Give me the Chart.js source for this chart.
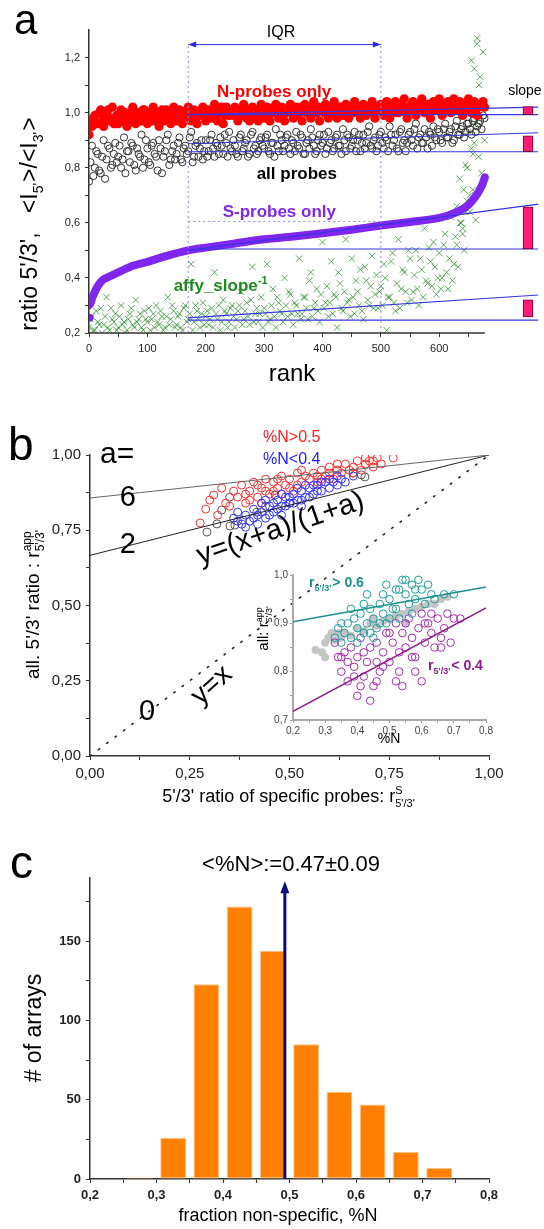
<!DOCTYPE html>
<html>
<head>
<meta charset="utf-8">
<script src="https://cdn.jsdelivr.net/npm/chart.js@4.4.1/dist/chart.umd.min.js"></script>
<style>
  body { margin: 0; background: #fff; }
  #page { position: relative; width: 544px; height: 1229px; }
  canvas { position: absolute; }
</style>
</head>
<body>
<div id="page">
  <canvas id="chartA" width="544" height="400" style="left:0;top:0"></canvas>
  <canvas id="chartB" width="544" height="440" style="left:0;top:400px"></canvas>
  <canvas id="inset" width="250" height="190" style="left:250px;top:562px"></canvas>
  <canvas id="chartC" width="544" height="389" style="left:0;top:840px"></canvas>
</div>
<script>
// ============================
// ==== a : ratios vs rank ====
// ============================

// one value every RANK_STEP ranks (rank 0 .. 675); the *B lists sit half a step later
const RANK_STEP = 5;
const maxRank = 678;

const nProbes = [
  0.92, 0.95, 0.99, 0.96, 1.01, 0.95, 0.99, 0.97, 1.02, 0.96,
  0.96, 1.01, 0.98, 0.95, 1.00, 1.02, 0.96, 0.99, 0.97, 1.01,
  0.96, 1.00, 1.02, 0.97, 0.95, 1.01, 0.98, 1.00, 0.96, 1.02,
  0.97, 1.01, 0.96, 0.99, 1.02, 0.97, 1.01, 0.96, 0.99, 1.02,
  0.97, 1.01, 0.98, 1.03, 0.97, 1.00, 0.96, 1.02, 0.99, 1.01,
  1.02, 0.97, 1.00, 1.03, 0.98, 0.97, 1.02, 1.00, 0.97, 1.03,
  0.98, 1.02, 0.97, 1.00, 1.03, 0.98, 1.02, 0.97, 1.01, 1.03,
  0.98, 1.02, 1.00, 0.97, 1.03, 1.00, 0.98, 1.04, 1.00, 0.97,
  1.02, 1.03, 0.98, 1.00, 1.04, 0.98, 1.02, 0.99, 1.03, 0.98,
  1.02, 1.04, 1.00, 0.98, 1.03, 0.99, 1.02, 1.04, 0.98, 1.01,
  1.03, 0.99, 1.04, 0.98, 1.02, 1.04, 1.00, 1.03, 1.05, 0.98,
  1.01, 1.04, 0.99, 1.03, 1.05, 1.00, 1.03, 0.98, 1.04, 1.01,
  1.05, 0.99, 1.03, 1.04, 1.00, 1.05, 1.01, 1.04, 0.99, 1.03,
  1.05, 1.00, 1.04, 0.99, 1.03, 1.04
];
const nProbesB = [
  0.97, 0.98, 0.96, 1.00, 0.97, 0.99, 1.01, 0.98, 0.96, 0.99,
  0.99, 0.97, 1.00, 0.98, 0.97, 0.99, 1.00, 0.97, 1.01, 0.98,
  0.99, 0.97, 0.99, 1.00, 0.98, 0.97, 1.01, 0.98, 1.00, 0.98,
  1.00, 0.98, 0.99, 1.01, 0.98, 1.00, 0.98, 1.00, 1.01, 0.99,
  1.00, 0.99, 1.01, 0.99, 1.00, 1.02, 0.99, 1.00, 1.01, 0.99,
  1.00, 1.01, 0.99, 1.00, 1.01, 1.00, 0.99, 1.01, 1.00, 1.00,
  1.01, 0.99, 1.00, 1.02, 1.00, 1.01, 0.99, 1.00, 1.01, 1.00,
  1.00, 0.99, 1.02, 1.01, 1.00, 1.02, 1.01, 1.00, 1.02, 1.01,
  1.00, 1.01, 1.02, 1.01, 1.00, 1.02, 1.00, 1.01, 1.00, 1.02,
  1.00, 1.01, 1.02, 1.01, 1.00, 1.02, 1.01, 1.00, 1.02, 1.01,
  1.01, 1.02, 1.01, 1.03, 1.00, 1.01, 1.02, 1.01, 1.00, 1.02,
  1.03, 1.01, 1.02, 1.01, 1.02, 1.03, 1.01, 1.02, 1.01, 1.02,
  1.02, 1.03, 1.01, 1.02, 1.03, 1.01, 1.02, 1.03, 1.02, 1.01,
  1.02, 1.03, 1.01, 1.02, 1.03, 1.02
];

const allProbes = [
  0.75, 0.88, 0.80, 0.85, 0.78, 0.90, 0.83, 0.87, 0.81, 0.89,
  0.84, 0.80, 0.91, 0.86, 0.82, 0.88, 0.79, 0.85, 0.92, 0.83,
  0.87, 0.81, 0.89, 0.84, 0.90, 0.78, 0.86, 0.92, 0.83, 0.88,
  0.85, 0.91, 0.82, 0.88, 0.86, 0.93, 0.84, 0.89, 0.87, 0.83,
  0.90, 0.86, 0.92, 0.84, 0.88, 0.91, 0.85, 0.89, 0.93, 0.86,
  0.88, 0.84, 0.92, 0.87, 0.90, 0.85, 0.93, 0.88, 0.86, 0.91,
  0.87, 0.92, 0.85, 0.89, 0.94, 0.86, 0.90, 0.88, 0.92, 0.85,
  0.89, 0.93, 0.87, 0.91, 0.85, 0.90, 0.94, 0.88, 0.86, 0.92,
  0.89, 0.85, 0.93, 0.90, 0.87, 0.92, 0.88, 0.94, 0.86, 0.91,
  0.88, 0.93, 0.90, 0.86, 0.92, 0.89, 0.95, 0.87, 0.91, 0.88,
  0.93, 0.87, 0.90, 0.95, 0.88, 0.92, 0.86, 0.94, 0.90, 0.89,
  0.93, 0.88, 0.96, 0.91, 0.89, 0.94, 0.87, 0.92, 0.95, 0.90,
  0.93, 0.89, 0.96, 0.91, 0.94, 0.90, 0.97, 0.92, 0.95, 0.93,
  0.96, 0.92, 0.98, 0.95, 0.97, 0.99
];
const allProbesB = [
  0.82, 0.77, 0.86, 0.79, 0.84, 0.76, 0.88, 0.80, 0.85, 0.82,
  0.88, 0.83, 0.78, 0.86, 0.89, 0.81, 0.87, 0.84, 0.80, 0.90,
  0.82, 0.88, 0.85, 0.79, 0.87, 0.84, 0.90, 0.81, 0.86, 0.83,
  0.89, 0.83, 0.87, 0.85, 0.91, 0.82, 0.88, 0.84, 0.90, 0.86,
  0.84, 0.90, 0.87, 0.89, 0.85, 0.88, 0.92, 0.84, 0.87, 0.90,
  0.85, 0.91, 0.86, 0.89, 0.84, 0.92, 0.87, 0.85, 0.90, 0.88,
  0.91, 0.86, 0.89, 0.84, 0.88, 0.92, 0.86, 0.91, 0.87, 0.90,
  0.86, 0.88, 0.92, 0.85, 0.89, 0.87, 0.91, 0.85, 0.90, 0.88,
  0.92, 0.87, 0.89, 0.86, 0.91, 0.88, 0.85, 0.90, 0.92, 0.87,
  0.90, 0.86, 0.92, 0.89, 0.87, 0.93, 0.88, 0.90, 0.86, 0.92,
  0.89, 0.91, 0.86, 0.92, 0.90, 0.87, 0.93, 0.89, 0.86, 0.92,
  0.90, 0.94, 0.87, 0.92, 0.89, 0.91, 0.93, 0.88, 0.91, 0.94,
  0.90, 0.94, 0.91, 0.93, 0.89, 0.95, 0.92, 0.94, 0.91, 0.96,
  0.94, 0.97, 0.93, 0.96, 0.94, 0.98
];

const affySlopeInv = [
  0.22, 0.26, 0.21, 0.24, 0.29, 0.23, 0.33, 0.21, 0.25, 0.27,
  0.22, 0.30, 0.24, 0.21, 0.27, 0.23, 0.32, 0.25, 0.22, 0.28,
  0.24, 0.21, 0.27, 0.30, 0.23, 0.26, 0.22, 0.33, 0.25, 0.28,
  0.23, 0.27, 0.21, 0.30, 0.25, 0.45, 0.24, 0.28, 0.22, 0.31,
  0.26, 0.23, 0.29, 0.42, 0.25, 0.21, 0.32, 0.27, 0.24, 0.30,
  0.22, 0.28, 0.35, 0.25, 0.31, 0.23, 0.44, 0.27, 0.24, 0.33,
  0.29, 0.45, 0.25, 0.36, 0.22, 0.31, 0.27, 0.40, 0.26, 0.34,
  0.23, 0.30, 0.47, 0.27, 0.33, 0.25, 0.42, 0.29, 0.36, 0.24,
  0.53, 0.31, 0.26, 0.46, 0.34, 0.22, 0.38, 0.28, 0.54, 0.32,
  0.47, 0.27, 0.35, 0.43, 0.25, 0.39, 0.30, 0.48, 0.34, 0.29,
  0.37, 0.45, 0.21, 0.33, 0.49, 0.28, 0.54, 0.36, 0.42, 0.31,
  0.47, 0.35, 0.50, 0.30, 0.43, 0.58, 0.38, 0.46, 0.53, 0.34,
  0.49, 0.40, 0.56, 0.36, 0.62, 0.45, 0.52, 0.76, 0.58, 0.81,
  0.93, 1.19, 0.89, 1.27, 1.13, 1.22
];
const affySlopeInvB = [
  0.25, 0.21, 0.28, 0.23, 0.20, 0.26, 0.22, 0.29, 0.24, 0.21,
  0.26, 0.23, 0.20, 0.25, 0.29, 0.22, 0.24, 0.27, 0.21, 0.25,
  0.29, 0.25, 0.22, 0.24, 0.28, 0.21, 0.26, 0.23, 0.30, 0.22,
  0.26, 0.22, 0.29, 0.24, 0.27, 0.21, 0.30, 0.25, 0.27, 0.23,
  0.28, 0.25, 0.22, 0.27, 0.30, 0.24, 0.28, 0.22, 0.29, 0.26,
  0.25, 0.30, 0.23, 0.28, 0.26, 0.32, 0.24, 0.29, 0.27, 0.22,
  0.27, 0.24, 0.30, 0.26, 0.33, 0.28, 0.24, 0.30, 0.35, 0.27,
  0.31, 0.27, 0.25, 0.33, 0.29, 0.39, 0.26, 0.31, 0.28, 0.34,
  0.29, 0.37, 0.31, 0.27, 0.33, 0.42, 0.29, 0.35, 0.31, 0.26,
  0.33, 0.39, 0.30, 0.28, 0.44, 0.32, 0.37, 0.29, 0.41, 0.35,
  0.30, 0.40, 0.33, 0.46, 0.31, 0.38, 0.29, 0.43, 0.35, 0.50,
  0.32, 0.41, 0.36, 0.47, 0.33, 0.39, 0.51, 0.37, 0.44, 0.40,
  0.36, 0.52, 0.42, 0.47, 0.39, 0.55, 0.44, 0.60, 0.50, 0.68,
  0.64, 0.72, 0.61, 0.84, 0.78, 0.90
];
// extra crosses in the steep upper tail
const affyTailRank  = [630, 636, 642, 648, 655, 660, 662, 665, 668, 640, 652, 646, 658];
const affyTailValue = [0.66, 0.60, 0.72, 0.80, 0.87, 1.16, 0.96, 1.25, 1.10, 0.56, 0.70, 0.64, 0.85];

const sProbeRank  = [0, 3, 6, 10, 15, 20, 25, 30, 40, 50, 70, 100, 130, 170, 200, 250, 300, 350, 400, 450, 500, 550, 600, 620, 640, 650, 660, 668, 674, 678];
const sProbeValue = [0.30, 0.31, 0.33, 0.35, 0.37, 0.385, 0.395, 0.40, 0.41, 0.42, 0.44, 0.458, 0.478, 0.50, 0.51, 0.525, 0.54, 0.55, 0.562, 0.575, 0.59, 0.603, 0.618, 0.63, 0.65, 0.665, 0.69, 0.715, 0.74, 0.765];
const sProbeOutlier = [1, 0.255];

const iqrBounds = [170, 500];
const iqrArrowLevel = 1.247;
const sIqrTop = 0.605;

// blue lines : [rank0, value0, rank1, value1]
const fitLines = [
  [170, 0.993, 770, 0.993], [170, 0.993, 770, 1.020],
  [170, 0.858, 770, 0.858], [170, 0.887, 770, 0.927],
  [185, 0.505, 770, 0.505], [170, 0.500, 770, 0.668],
  [170, 0.247, 770, 0.247], [170, 0.255, 770, 0.338]
];
const slopeBarRank = 752;
const slopeBarLow  = [0.993, 0.858, 0.505, 0.258];
const slopeBarHigh = [1.022, 0.916, 0.658, 0.320];

// ========================================
// ==== b : apparent vs specific ratio ====
// ========================================
const aValues = [6, 2, 0];

const highN = [ // %N > 0.5
  [0.276,0.774],[0.31,0.867],[0.33,0.89],[0.30,0.85],[0.29,0.82],[0.34,0.84],[0.32,0.80],[0.35,0.83],[0.36,0.88],[0.37,0.86],
  [0.38,0.90],[0.39,0.84],[0.40,0.88],[0.41,0.91],[0.42,0.86],[0.43,0.89],[0.44,0.92],[0.40,0.85],[0.42,0.90],[0.45,0.87],
  [0.44,0.88],[0.39,0.87],[0.43,0.84],[0.46,0.91],[0.47,0.89],[0.48,0.93],[0.49,0.90],[0.50,0.92],[0.51,0.88],[0.52,0.94],
  [0.53,0.91],[0.54,0.93],[0.47,0.92],[0.50,0.89],[0.52,0.90],[0.55,0.92],[0.48,0.87],[0.53,0.95],[0.46,0.88],[0.56,0.94],
  [0.57,0.91],[0.58,0.95],[0.59,0.93],[0.60,0.96],[0.61,0.92],[0.62,0.95],[0.63,0.94],[0.64,0.97],[0.57,0.93],[0.60,0.94],
  [0.62,0.97],[0.58,0.92],[0.65,0.95],[0.66,0.96],[0.67,0.98],[0.68,0.95],[0.69,0.97],[0.70,0.98],[0.71,0.96],[0.72,0.99],
  [0.73,0.97],[0.76,0.99],[0.66,0.94],[0.69,0.99],[0.71,0.98]
];
const lowN = [ // %N < 0.4
  [0.36,0.79],[0.37,0.81],[0.38,0.77],[0.39,0.80],[0.40,0.78],[0.41,0.82],[0.42,0.80],[0.43,0.84],[0.44,0.79],[0.45,0.83],
  [0.46,0.81],[0.47,0.85],[0.48,0.83],[0.49,0.86],[0.50,0.84],[0.51,0.87],[0.52,0.85],[0.53,0.88],[0.54,0.86],[0.55,0.89],
  [0.56,0.87],[0.57,0.90],[0.58,0.88],[0.59,0.91],[0.60,0.89],[0.61,0.91],[0.62,0.90],[0.63,0.92],[0.64,0.91],[0.66,0.93],
  [0.41,0.79],[0.43,0.81],[0.45,0.80],[0.47,0.82],[0.49,0.83],[0.51,0.84],[0.53,0.85],[0.55,0.86],[0.57,0.88],[0.44,0.85],
  [0.48,0.87],[0.52,0.89],[0.56,0.90],[0.60,0.92],[0.39,0.76],[0.42,0.77],[0.46,0.84],[0.50,0.86],[0.54,0.90],[0.58,0.91],
  [0.62,0.93],[0.37,0.78],[0.48,0.80],[0.53,0.83]
];
const midN = [
  [0.293,0.744],[0.318,0.771],[0.351,0.764],[0.363,0.767],[0.383,0.784],[0.33,0.817],[0.35,0.86],
  [0.418,0.81],[0.464,0.867],[0.501,0.84],[0.659,0.94],[0.68,0.934],[0.689,0.927],[0.44,0.83]
];

// inset : apparent ratio vs %N
const insetHigh = [ // r > 0.6
  [0.33,0.87],[0.34,0.89],[0.35,0.86],[0.36,0.88],[0.37,0.90],[0.38,0.87],[0.39,0.91],[0.40,0.89],[0.41,0.92],[0.42,0.88],
  [0.43,0.90],[0.44,0.93],[0.45,0.91],[0.46,0.89],[0.47,0.94],[0.48,0.92],[0.49,0.90],[0.50,0.95],[0.51,0.93],[0.52,0.97],
  [0.53,0.91],[0.54,0.99],[0.55,0.96],[0.56,0.94],[0.57,0.98],[0.58,0.95],[0.59,0.99],[0.60,0.97],[0.61,0.94],[0.62,0.98],
  [0.63,0.96],[0.64,0.95],[0.67,0.96],[0.70,0.96],[0.38,0.93],[0.42,0.94],[0.45,0.87],[0.48,0.96],[0.50,0.91],[0.52,0.93],
  [0.55,0.99],[0.57,0.92],[0.40,0.86],[0.44,0.88],[0.47,0.90],[0.53,0.97],[0.58,0.97],[0.35,0.90],[0.43,0.96],[0.49,0.98]
];
const insetLow = [ // r < 0.4
  [0.33,0.86],[0.34,0.83],[0.35,0.80],[0.36,0.84],[0.37,0.78],[0.38,0.85],[0.39,0.81],[0.40,0.83],[0.41,0.87],[0.42,0.79],
  [0.43,0.82],[0.44,0.85],[0.45,0.77],[0.46,0.86],[0.47,0.80],[0.48,0.84],[0.49,0.88],[0.50,0.82],[0.51,0.86],[0.52,0.90],
  [0.53,0.84],[0.54,0.88],[0.55,0.85],[0.56,0.91],[0.57,0.87],[0.58,0.83],[0.59,0.89],[0.60,0.92],[0.61,0.86],[0.62,0.90],
  [0.63,0.88],[0.64,0.85],[0.65,0.91],[0.66,0.87],[0.67,0.89],[0.68,0.92],[0.69,0.86],[0.70,0.91],[0.72,0.91],[0.40,0.75],
  [0.44,0.74],[0.41,0.77],[0.46,0.78],[0.52,0.78],[0.54,0.77],[0.60,0.78],[0.58,0.80],[0.35,0.83],[0.37,0.82],[0.42,0.84],
  [0.46,0.82],[0.50,0.88],[0.55,0.90],[0.63,0.92],[0.66,0.85],[0.39,0.79],[0.48,0.81],[0.53,0.80],[0.57,0.83],[0.61,0.90]
];
const insetMid = [
  [0.27,0.845],[0.29,0.84],[0.30,0.86],[0.31,0.87],[0.32,0.88],[0.33,0.865],[0.35,0.87],[0.36,0.88],[0.38,0.875],[0.40,0.89],
  [0.42,0.885],[0.44,0.90],[0.46,0.895],[0.48,0.905],[0.50,0.91],[0.52,0.915],[0.54,0.92],[0.56,0.925],[0.58,0.93],[0.60,0.935],
  [0.62,0.94],[0.64,0.94],[0.66,0.95],[0.68,0.955],[0.34,0.88],[0.45,0.91],[0.55,0.90],[0.30,0.83]
];
// fit lines of the inset, values at %N = 0.2 and 0.8
const insetFitHigh = [0.903, 0.975];
const insetFitLow  = [0.718, 0.932];

// ==================================
// ==== c : histogram of %N ====
// ==================================
const binCenters  = [0.275, 0.325, 0.375, 0.425, 0.475, 0.525, 0.575, 0.625, 0.675, 0.725];
const arrayCounts = [1, 26, 123, 172, 144, 85, 55, 47, 17, 7];
const meanLabel = '<%N>:=0.47\u00b10.09';
const arrowN = 0.493;
const arrowTop = 188;

// ===========================
// ==== helpers de dessin ====
// ===========================
const FONT = "'Liberation Sans', Arial, sans-serif";
Chart.defaults.font.family = FONT;
Chart.defaults.color = '#222';

const comma = (v, d) => v.toFixed(d).replace('.', ',');
const isMultiple = (v, step) => Math.abs(v / step - Math.round(v / step)) < 1e-6;
const xy = pairs => pairs.map(p => ({x: p[0], y: p[1]}));
const byRank = (values, shift) => values.map((v, i) => ({x: i * RANK_STEP + shift, y: v}));

function text(ctx, str, x, y, size, opts = {}) {
  ctx.save();
  ctx.translate(x, y);
  if (opts.angle) ctx.rotate(opts.angle);
  ctx.font = `${opts.weight || 'normal'} ${size}px ${FONT}`;
  ctx.fillStyle = opts.color || '#000';
  ctx.textAlign = opts.align || 'center';
  ctx.textBaseline = 'alphabetic';
  ctx.fillText(str, 0, 0);
  ctx.restore();
}

// text with sub/superscripts; strings are normal runs, objects {sup, sub} small runs
function rich(ctx, parts, x, y, size, opts = {}) {
  const weight = opts.weight || 'normal';
  const small = Math.round(size * 0.62);
  const f = s => `${weight} ${s}px ${FONT}`;
  const widths = parts.map(p => {
    if (typeof p === 'string') { ctx.font = f(size); return ctx.measureText(p).width; }
    ctx.font = f(small);
    return Math.max(p.sup ? ctx.measureText(p.sup).width : 0, p.sub ? ctx.measureText(p.sub).width : 0) + 1;
  });
  const total = widths.reduce((a, b) => a + b, 0);
  ctx.save();
  ctx.translate(x, y);
  if (opts.angle) ctx.rotate(opts.angle);
  ctx.fillStyle = opts.color || '#000';
  ctx.textAlign = 'left';
  ctx.textBaseline = 'alphabetic';
  let cx = opts.align === 'left' ? 0 : -total / 2;
  parts.forEach((p, i) => {
    if (typeof p === 'string') {
      ctx.font = f(size);
      ctx.fillText(p, cx, 0);
    } else {
      ctx.font = f(small);
      if (p.sup) ctx.fillText(p.sup, cx, -size * 0.42);
      if (p.sub) ctx.fillText(p.sub, cx, size * 0.28);
    }
    cx += widths[i];
  });
  ctx.restore();
}

function seg(x0, y0, x1, y1) { return [{x: x0, y: y0}, {x: x1, y: y1}]; }

function lineSet(data, color, width, dash, order) {
  return {type: 'line', data, borderColor: color, borderWidth: width, borderDash: dash || [],
    pointRadius: 0, fill: false, order};
}

// axis with fixed box size, outward ticks (offset off: bar datasets would turn it on)
function axis(min, max, step, labelStep, decimals, sizeFn, fontOpts, extra = {}) {
  return Object.assign({
    type: 'linear', min, max, offset: false,
    ticks: {stepSize: step, autoSkip: false, maxRotation: 0, padding: 5, font: fontOpts,
      callback: v => isMultiple(v, labelStep) ? comma(v, decimals) : ''},
    grid: {drawOnChartArea: false, drawTicks: true, tickLength: 4, color: '#333', offset: false},
    border: {display: true, color: '#333', width: 1.5},
    afterFit: sizeFn
  }, extra);
}

const common = {responsive: false, animation: false, devicePixelRatio: 1,
  plugins: {legend: {display: false}, tooltip: {enabled: false}}};

// =================
// ==== panel a ====
// =================
const panelA = {
  id: 'panelA',
  afterDraw(chart) {
    const {ctx, chartArea: ca, scales: {x, y}} = chart;
    ctx.save();
    // the rank axis stops at the last array
    ctx.strokeStyle = '#333';
    ctx.lineWidth = 1.5;
    ctx.beginPath();
    ctx.moveTo(ca.left - 0.75, ca.bottom);
    ctx.lineTo(x.getPixelForValue(maxRank), ca.bottom);
    ctx.stroke();

    // IQR double arrow
    const ay = y.getPixelForValue(iqrArrowLevel);
    const a0 = x.getPixelForValue(iqrBounds[0]), a1 = x.getPixelForValue(iqrBounds[1]);
    ctx.strokeStyle = ctx.fillStyle = '#2a2ae6';
    ctx.lineWidth = 1;
    ctx.beginPath(); ctx.moveTo(a0, ay); ctx.lineTo(a1, ay); ctx.stroke();
    ctx.beginPath(); ctx.moveTo(a0, ay); ctx.lineTo(a0 + 8, ay - 3); ctx.lineTo(a0 + 8, ay + 3); ctx.fill();
    ctx.beginPath(); ctx.moveTo(a1, ay); ctx.lineTo(a1 - 8, ay - 3); ctx.lineTo(a1 - 8, ay + 3); ctx.fill();
    ctx.restore();

    const px = v => x.getPixelForValue(v), py = v => y.getPixelForValue(v);
    text(ctx, 'IQR', px(329), py(1.276), 16);
    text(ctx, 'N-probes only', px(317), py(1.055), 17, {weight: 'bold', color: '#ff0000'});
    text(ctx, 'all probes', px(356), py(0.76), 17, {weight: 'bold'});
    text(ctx, 'S-probes only', px(326), py(0.622), 17, {weight: 'bold', color: '#8026ee'});
    rich(ctx, ['affy_slope', {sup: '-1'}], px(145), py(0.353), 17, {weight: 'bold', color: '#1f8a1f', align: 'left'});
    text(ctx, 'slope', px(718), py(1.065), 14, {align: 'left'});
    text(ctx, 'rank', 292, 381, 24);
    text(ctx, 'a', 14, 34, 42, {align: 'left'});
    rich(ctx, ["ratio 5'/3',   <I", {sub: "5'"}, ">/<I", {sub: "3'"}, ">"], 37, 224, 23, {angle: -Math.PI / 2});
  }
};

const crosses = {pointStyle: 'crossRot', pointRadius: 4.5, pointBorderColor: 'rgba(40,140,40,0.75)',
  pointBackgroundColor: 'transparent', pointBorderWidth: 1, order: 9};
const openBlack = {pointRadius: 3.6, pointBorderColor: '#333', pointBackgroundColor: 'transparent',
  pointBorderWidth: 1, order: 8};
const redDots = {pointRadius: 4.6, pointBorderWidth: 0, pointBackgroundColor: '#ff0000', order: 7};

const datasetsA = [
  Object.assign({data: byRank(affySlopeInv, 0)}, crosses),
  Object.assign({data: byRank(affySlopeInvB, RANK_STEP / 2)}, crosses),
  Object.assign({data: affyTailRank.map((r, i) => ({x: r, y: affyTailValue[i]}))}, crosses),
  Object.assign({data: byRank(allProbes, 0)}, openBlack),
  Object.assign({data: byRank(allProbesB, RANK_STEP / 2)}, openBlack),
  Object.assign({data: byRank(nProbes, 0)}, redDots),
  Object.assign({data: byRank(nProbesB, RANK_STEP / 2)}, redDots),
  Object.assign(lineSet(sProbeRank.map((r, i) => ({x: r, y: sProbeValue[i]})), '#8026ee', 8, [], 6),
    {cubicInterpolationMode: 'monotone', borderCapStyle: 'round', borderJoinStyle: 'round'}),
  {data: [{x: sProbeOutlier[0], y: sProbeOutlier[1]}],
    pointRadius: 4, pointBackgroundColor: '#8026ee', pointBorderWidth: 0, order: 6},
  lineSet(seg(iqrBounds[0], 0.2, iqrBounds[0], iqrArrowLevel), '#8c8cf0', 1, [2, 3], 5),
  lineSet(seg(iqrBounds[1], 0.2, iqrBounds[1], iqrArrowLevel), '#8c8cf0', 1, [2, 3], 5),
  lineSet(seg(iqrBounds[0], sIqrTop, iqrBounds[1], sIqrTop), '#8c8cf0', 1, [2, 3], 5),
  ...fitLines.map(f => lineSet(seg(f[0], f[1], f[2], f[3]), '#3535e0', 1.2, [], 2)),
  {type: 'bar', order: 0, barThickness: 10,
    data: slopeBarLow.map((lo, i) => ({x: slopeBarRank, y: [lo, slopeBarHigh[i]]})),
    backgroundColor: '#ff1a75', borderColor: '#6a0030', borderWidth: 1, borderSkipped: false}
];

new Chart(document.getElementById('chartA'), {
  type: 'scatter',
  data: {datasets: datasetsA},
  options: Object.assign({}, common, {
    layout: {padding: {left: 0, top: 30, right: 2, bottom: 0}},
    scales: {
      x: axis(0, 770, 50, 100, 0, s => { s.height = 67; }, {size: 11}, {
        border: {display: false},
        afterBuildTicks: s => { s.ticks = s.ticks.filter(t => t.value <= 660); }
      }),
      y: axis(0.2, 1.3, 0.1, 0.2, 1, s => { s.width = 89; }, {size: 11}, {
        afterBuildTicks: s => { s.ticks = s.ticks.filter(t => t.value <= 1.25); }
      })
    }
  }),
  plugins: [panelA]
});

// =================
// ==== panel b ====
// =================
const panelB = {
  id: 'panelB',
  afterDraw(chart) {
    const {ctx, scales: {x, y}} = chart;
    const px = v => x.getPixelForValue(v), py = v => y.getPixelForValue(v);
    text(ctx, 'b', 8, 60, 46, {align: 'left'});
    text(ctx, 'a=', 100, 63, 30, {align: 'left'});
    text(ctx, String(aValues[0]), px(0.095), py(0.83), 29);
    text(ctx, String(aValues[1]), px(0.095), py(0.673), 29);
    text(ctx, String(aValues[2]), px(0.143), py(0.12), 29);
    text(ctx, 'y=(x+a)/(1+a)', px(0.484), py(0.73), 29, {angle: -19 * Math.PI / 180});
    text(ctx, 'y=x', px(0.318), py(0.215), 28, {angle: -42 * Math.PI / 180});
    text(ctx, '%N>0.5', 263, 42, 16, {align: 'left', color: '#ff1a1a'});
    text(ctx, '%N<0.4', 263, 64, 16, {align: 'left', color: '#2020ff'});
    rich(ctx, ["5'/3' ratio of specific probes: r", {sup: 'S', sub: "5'/3'"}], 289, 402, 18);
    rich(ctx, ["all. 5'/3' ratio : r", {sup: 'app', sub: "5'/3'"}], 39, 204, 19, {angle: -Math.PI / 2});
  }
};

const circle = (pairs, color, order) => ({data: xy(pairs), pointRadius: 4, pointBorderWidth: 1,
  pointBorderColor: color, pointBackgroundColor: 'transparent', order});

new Chart(document.getElementById('chartB'), {
  type: 'scatter',
  data: {datasets: [
    lineSet(seg(0, aValues[0] / (1 + aValues[0]), 1, 1), '#666', 1, [], 1),
    lineSet(seg(0, aValues[1] / (1 + aValues[1]), 1, 1), '#222', 1, [], 1),
    Object.assign(lineSet(seg(0, 0, 1, 1), '#222', 1.6, [1.5, 9], 1), {borderCapStyle: 'round'}),
    circle(midN, '#555', 4),
    circle(highN, '#ff3030', 3),
    circle(lowN, '#3333ff', 2)
  ]},
  options: Object.assign({}, common, {
    layout: {padding: {left: 0, top: 55, right: 55, bottom: 0}},
    scales: {
      x: axis(0, 1, 0.125, 0.25, 2, s => { s.height = 84; }, {size: 15}),
      y: axis(0, 1, 0.125, 0.25, 2, s => { s.width = 90; }, {size: 15})
    }
  }),
  plugins: [panelB]
});

// ---- inset ----
const insetLabels = {
  id: 'insetLabels',
  afterDraw(chart) {
    const {ctx, scales: {x, y}} = chart;
    const px = v => x.getPixelForValue(v), py = v => y.getPixelForValue(v);
    rich(ctx, ['r', {sub: "5'/3'"}, '> 0.6'], px(0.25), py(0.975), 14, {weight: 'bold', color: '#1a9090', align: 'left'});
    rich(ctx, ['r', {sub: "5'/3'"}, '< 0.4'], px(0.62), py(0.803), 14, {weight: 'bold', color: '#8f1a8f', align: 'left'});
    text(ctx, '%N', 139, 181, 14);
    rich(ctx, ['all: r', {sup: 'app', sub: "5'/3'"}], 18, 66, 15, {angle: -Math.PI / 2});
  }
};

const insetAxis = (min, max, sizeFn) => ({
  type: 'linear', min, max, offset: false,
  ticks: {stepSize: 0.05, autoSkip: false, maxRotation: 0, padding: 2, font: {size: 10}, color: '#444',
    callback: v => isMultiple(v, 0.1) ? comma(v, 1) : ''},
  grid: {drawOnChartArea: false, drawTicks: true, tickLength: 3, color: '#999'},
  border: {display: true, color: '#aaa', width: 2},
  afterFit: sizeFn
});

new Chart(document.getElementById('inset'), {
  type: 'scatter',
  data: {datasets: [
    lineSet(seg(0.2, insetFitHigh[0], 0.8, insetFitHigh[1]), '#1a9090', 1.5, [], 0),
    lineSet(seg(0.2, insetFitLow[0], 0.8, insetFitLow[1]), '#8f1a8f', 1.5, [], 0),
    {data: xy(insetMid), pointRadius: 4, pointBorderWidth: 0, pointBackgroundColor: '#c4c4c4', order: 4},
    {data: xy(insetLow), pointRadius: 3.8, pointBorderWidth: 1, pointBorderColor: '#a62aae',
      pointBackgroundColor: 'transparent', order: 3},
    {data: xy(insetHigh), pointRadius: 3.8, pointBorderWidth: 1, pointBorderColor: '#1f9e9e',
      pointBackgroundColor: 'transparent', order: 2}
  ]},
  options: Object.assign({}, common, {
    layout: {padding: {left: 0, top: 13, right: 14, bottom: 0}},
    scales: {
      x: insetAxis(0.2, 0.8, s => { s.height = 32; }),
      y: insetAxis(0.7, 1.0, s => { s.width = 43; })
    }
  }),
  plugins: [insetLabels]
});

// =================
// ==== panel c ====
// =================
const panelC = {
  id: 'panelC',
  afterDatasetsDraw(chart) {
    const {ctx, scales: {x, y}} = chart;
    const ax = x.getPixelForValue(arrowN), y0 = y.getPixelForValue(0), y1 = y.getPixelForValue(arrowTop);
    ctx.save();
    ctx.strokeStyle = ctx.fillStyle = '#0b0b80';
    ctx.lineWidth = 3;
    ctx.beginPath(); ctx.moveTo(ax, y0); ctx.lineTo(ax, y1 + 8); ctx.stroke();
    ctx.beginPath(); ctx.moveTo(ax, y1); ctx.lineTo(ax - 4.5, y1 + 12); ctx.lineTo(ax + 4.5, y1 + 12); ctx.closePath(); ctx.fill();
    ctx.restore();
  },
  afterDraw(chart) {
    const {ctx} = chart;
    text(ctx, 'c', 10, 38, 46, {align: 'left'});
    text(ctx, meanLabel, 291, 31, 22);
    text(ctx, 'fraction non-specific, %N', 278, 381, 18);
    text(ctx, '# of arrays', 41, 188, 23, {angle: -Math.PI / 2});
  }
};

new Chart(document.getElementById('chartC'), {
  type: 'scatter',
  data: {datasets: [{
    type: 'bar',
    data: binCenters.map((c, i) => ({x: c, y: arrayCounts[i]})),
    backgroundColor: '#ff8000', borderColor: '#ffc48a', borderWidth: 1, borderSkipped: false,
    categoryPercentage: 0.8, barPercentage: 0.97
  }]},
  options: Object.assign({}, common, {
    layout: {padding: {left: 0, top: 38, right: 55, bottom: 0}},
    scales: {
      x: axis(0.2, 0.8, 0.05, 0.1, 1, s => { s.height = 50; }, {size: 13, weight: 'bold'}),
      y: axis(0, 190, 25, 50, 0, s => { s.width = 90; }, {size: 13, weight: 'bold'}, {
        afterBuildTicks: s => { s.ticks = s.ticks.filter(t => t.value <= 175); }
      })
    }
  }),
  plugins: [panelC]
});
</script>
</body>
</html>
